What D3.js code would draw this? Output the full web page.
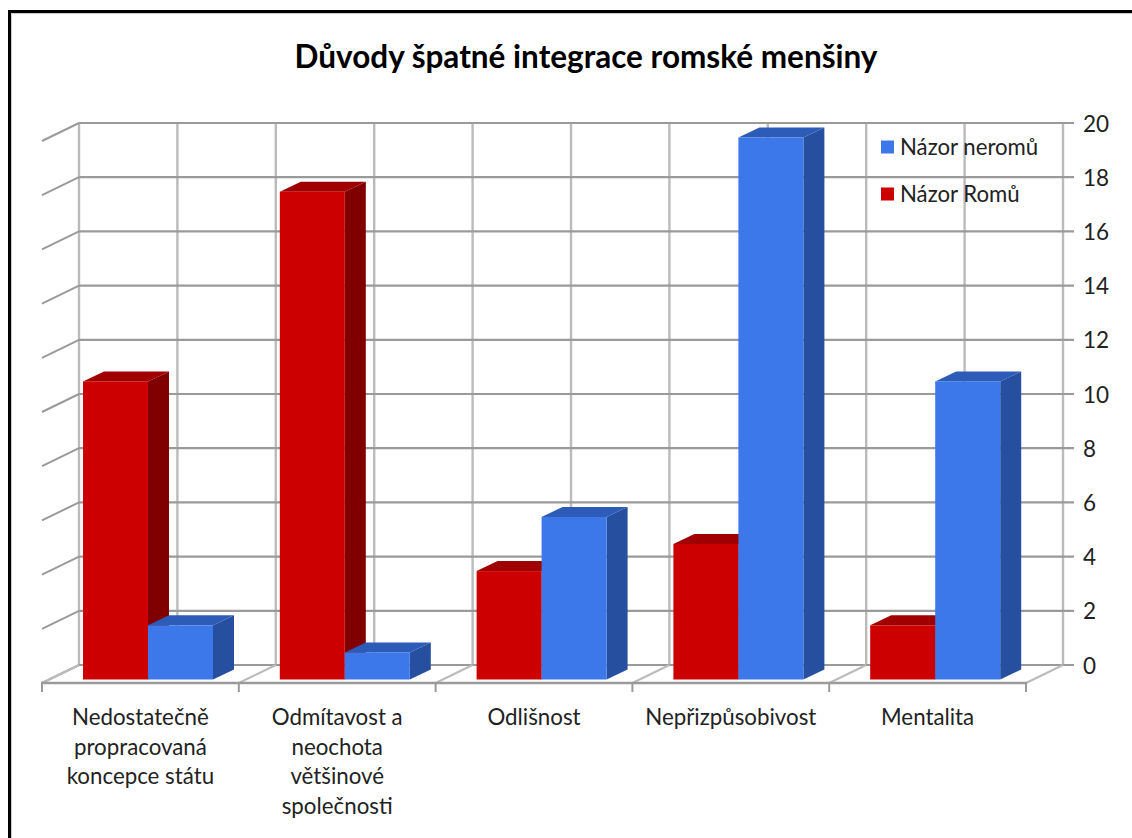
<!DOCTYPE html>
<html><head><meta charset="utf-8">
<script src="https://cdnjs.cloudflare.com/ajax/libs/d3/7.8.5/d3.min.js"></script>
<style>html,body{margin:0;padding:0;background:#fff;overflow:hidden}svg{display:block}text{font-family:Lato,"Open Sans",sans-serif;fill:#222}</style>
</head><body><svg id="c" width="1132" height="838"></svg>
<script>
const title = "Důvody špatné integrace romské menšiny";
const categories = ["Nedostatečně propracovaná koncepce státu","Odmítavost a neochota většinové společnosti","Odlišnost","Nepřizpůsobivost","Mentalita"];
const categoryLines = [["Nedostatečně","propracovaná","koncepce státu"],["Odmítavost a","neochota","většinové","společnosti"],["Odlišnost"],["Nepřizpůsobivost"],["Mentalita"]];
const seriesNames = ["Názor Romů","Názor neromů"];
const romaValues = [11,18,4,5,2];
const nonRomaValues = [2,1,6,20,11];
const yTicks = [0,2,4,6,8,10,12,14,16,18,20];
const colors = {front:["#cc0000","#3d78ea"],side:["#800000","#26509f"],top:["#a10000","#2c5cb8"]};

const svg = d3.select("#c");
svg.append("rect").attr("x",9.5).attr("y",11.5).attr("width",1130).attr("height",840).attr("fill","#fff").attr("stroke","#000").attr("stroke-width",3);
svg.append("rect").attr("x",11.5).attr("y",13.5).attr("width",1130).attr("height",840).attr("fill","none").attr("stroke","#ccc").attr("stroke-width",1);

// Wall scale (back plane); the floor sits in front of it
const depth = {dx:-37, dy:18};
const barDepth = {dx:21, dy:-10};
const x = d3.scaleBand().domain(categories).range([79,1063]);
const y = d3.scaleLinear().domain([0,20]).range([665,123]);
const gridCol="#bbbbbb", hCol="#9a9a9a";
const g = svg.append("g").attr("fill","none");

const xEdges = categories.flatMap(c=>[x(c),x(c)+x.bandwidth()/2]).concat([x.range()[1]]);
g.selectAll("line.v").data(xEdges).join("line").attr("class","v")
 .attr("x1",d=>d).attr("x2",d=>d).attr("y1",y(20)).attr("y2",y(0)).attr("stroke",gridCol).attr("stroke-width",2.4);
g.selectAll("line.h").data(yTicks).join("line").attr("class","h")
 .attr("x1",x.range()[0]).attr("x2",x.range()[1]+11).attr("y1",d=>y(d)).attr("y2",d=>y(d)).attr("stroke",hCol).attr("stroke-width",2.2);
g.selectAll("line.d").data(yTicks).join("line").attr("class","d")
 .attr("x1",x.range()[0]).attr("y1",d=>y(d)).attr("x2",x.range()[0]+depth.dx).attr("y2",d=>y(d)+depth.dy).attr("stroke",hCol).attr("stroke-width",2);
const boundaries = categories.map(c=>x(c)).concat([x.range()[1]]);
g.selectAll("line.f").data(boundaries).join("line").attr("class","f")
 .attr("x1",d=>d).attr("y1",y(0)).attr("x2",d=>d+depth.dx).attr("y2",y(0)+depth.dy).attr("stroke",gridCol).attr("stroke-width",2);
g.append("line").attr("x1",x.range()[0]+depth.dx-1).attr("x2",x.range()[1]+depth.dx+1).attr("y1",y(0)+depth.dy).attr("y2",y(0)+depth.dy).attr("stroke",hCol).attr("stroke-width",2.4);
g.selectAll("line.t").data(boundaries).join("line").attr("class","t")
 .attr("x1",d=>d+depth.dx).attr("x2",d=>d+depth.dx).attr("y1",y(0)+depth.dy).attr("y2",y(0)+depth.dy+9).attr("stroke",hCol).attr("stroke-width",2);

// bars
const base = y(0)+14.5;
const h = v=>y(0)-y(v);
const barW = 65;
const rows = categories.flatMap((c,i)=>[{c,s:0,v:romaValues[i]},{c,s:1,v:nonRomaValues[i]}]);
const bars = svg.append("g").selectAll("g").data(rows).join("g");
const bx = d=>x(d.c)+4+d.s*barW;
const pts = a=>a.map(p=>p.join(",")).join(" ");
bars.append("polygon").attr("fill",d=>colors.side[d.s]).attr("points",d=>{const r=bx(d)+barW,t=base-h(d.v);return pts([[r,t],[r+barDepth.dx,t+barDepth.dy],[r+barDepth.dx,base+barDepth.dy],[r,base]])});
bars.append("polygon").attr("fill",d=>colors.top[d.s]).attr("points",d=>{const l=bx(d),r=l+barW,t=base-h(d.v);return pts([[l,t],[r,t],[r+barDepth.dx,t+barDepth.dy],[l+barDepth.dx,t+barDepth.dy]])});
bars.append("rect").attr("fill",d=>colors.front[d.s]).attr("x",bx).attr("width",barW).attr("y",d=>base-h(d.v)).attr("height",d=>h(d.v));

svg.append("g").selectAll("text").data(yTicks).join("text").attr("x",1083).attr("y",d=>y(d)+8.5).attr("font-size",22.5).text(d=>d);
svg.append("g").selectAll("text").data(categories).join("text").attr("text-anchor","middle").attr("font-size",22.3)
 .attr("x",c=>x(c)+x.bandwidth()/2+depth.dx).attr("y",725)
 .each(function(c,i){d3.select(this).selectAll("tspan").data(categoryLines[i]).join("tspan").attr("x",x(c)+x.bandwidth()/2+depth.dx).attr("dy",(d,j)=>j?29.7:0).text(d=>d)});
svg.append("text").attr("x",586).attr("y",68).attr("text-anchor","middle").attr("font-size",31.5).attr("font-weight",700).style("fill","#000").text(title);
const legend=[{n:seriesNames[1],c:colors.front[1],y:147},{n:seriesNames[0],c:colors.front[0],y:194}];
const lg=svg.append("g").selectAll("g").data(legend).join("g");
lg.append("rect").attr("x",881).attr("y",d=>d.y-6.5).attr("width",13).attr("height",13).attr("fill",d=>d.c);
lg.append("text").attr("x",900).attr("y",d=>d.y+8).attr("font-size",22.2).text(d=>d.n);
</script></body></html>
